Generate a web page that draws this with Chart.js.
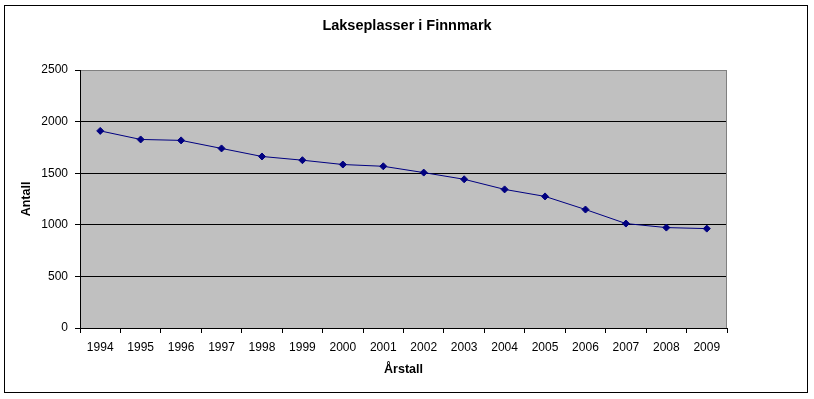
<!DOCTYPE html>
<html>
<head>
<meta charset="utf-8">
<script src="https://cdn.jsdelivr.net/npm/chart.js@4/dist/chart.umd.min.js"></script>
<style>
  body { margin: 0; background: #fff; }
  canvas { display: block; }
</style>
</head>
<body>
<canvas id="grafico" width="814" height="399"></canvas>
<script>
// Data
const aar = ['1994', '1995', '1996', '1997', '1998', '1999', '2000', '2001',
             '2002', '2003', '2004', '2005', '2006', '2007', '2008', '2009'];
const lakseplasser = [1910, 1827, 1818, 1740, 1662, 1626, 1584, 1567,
                      1506, 1441, 1343, 1275, 1148, 1012, 973, 963];
const yMin = 0;
const yMax = 2500;
const yStep = 500;

const fonte = "'Liberation Sans', Arial, sans-serif";

// bakgrunn, ramme og grått plottområde
const rammePlugin = {
    id: 'ramme',
    beforeDraw(chart) {
        const ctx = chart.ctx;
        const a = chart.chartArea;
        ctx.save();
        ctx.fillStyle = '#fff';
        ctx.fillRect(0, 0, chart.width, chart.height);
        ctx.strokeStyle = '#000';
        ctx.lineWidth = 1;
        ctx.strokeRect(4.5, 5.5, 803, 387);
        ctx.fillStyle = '#c0c0c0';
        ctx.fillRect(a.left, a.top, a.right - a.left, a.bottom - a.top);
        ctx.restore();
    },
    beforeDatasetsDraw(chart) {
        const ctx = chart.ctx;
        const a = chart.chartArea;
        ctx.save();
        ctx.strokeStyle = '#808080';
        ctx.lineWidth = 1;
        ctx.beginPath();
        ctx.moveTo(Math.round(a.right) - 0.5, a.top);
        ctx.lineTo(Math.round(a.right) - 0.5, a.bottom);
        ctx.stroke();
        ctx.restore();
    }
};

new Chart(document.getElementById('grafico'), {
    type: 'line',
    data: {
        labels: aar,
        datasets: [{
            label: 'Lakseplasser',
            data: lakseplasser,
            borderColor: '#000080',
            borderWidth: 1,
            backgroundColor: '#000080',
            fill: false,
            tension: 0,
            pointStyle: 'rectRot',
            pointRadius: 3.5,
            pointBorderWidth: 1,
            pointBackgroundColor: '#000080',
            pointBorderColor: '#000080'
        }]
    },
    options: {
        responsive: false,
        animation: false,
        layout: { padding: 0 },
        plugins: {
            legend: { display: false },
            tooltip: { enabled: false },
            title: {
                display: true,
                text: 'Lakseplasser i Finnmark',
                color: '#000',
                font: { family: fonte, size: 14.5, weight: 'bold', lineHeight: 1.2 },
                padding: { top: 17, bottom: 35.6 }
            }
        },
        scales: {
            x: {
                type: 'category',
                offset: true,
                afterFit(scale) { scale.height = 71; },
                grid: {
                    offset: true,
                    drawOnChartArea: false,
                    color: '#000',
                    tickColor: '#000',
                    tickLength: 5
                },
                border: { color: '#000', width: 1 },
                ticks: {
                    color: '#000',
                    padding: 7,
                    maxRotation: 0,
                    autoSkip: false,
                    font: { family: fonte, size: 12 }
                },
                title: {
                    display: true,
                    text: 'Årstall',
                    color: '#000',
                    font: { family: fonte, size: 12.5, weight: 'bold', lineHeight: 1.2 },
                    padding: { top: 0, bottom: 21.5 }
                }
            },
            y: {
                min: yMin,
                max: yMax,
                afterFit(scale) { scale.width = 80; },
                grid: {
                    color: (c) => (c.tick && c.tick.value === yMax ? '#808080' : '#000'),
                    tickColor: '#000',
                    tickLength: 5
                },
                border: { color: '#000', width: 1 },
                ticks: {
                    stepSize: yStep,
                    color: '#000',
                    padding: 7,
                    font: { family: fonte, size: 12 },
                    callback: (v) => String(v)
                },
                title: {
                    display: true,
                    text: 'Antall',
                    color: '#000',
                    font: { family: fonte, size: 12.5, weight: 'bold', lineHeight: 1.2 },
                    padding: { top: 19, bottom: 0 }
                }
            },
            // tom akse til høyre, holder plass slik at tittelen blir midtstilt over hele figuren
            hoyre: {
                type: 'linear',
                position: 'right',
                afterFit(scale) { scale.width = 87; },
                grid: { display: false },
                border: { display: false },
                ticks: { display: false }
            }
        }
    },
    plugins: [rammePlugin]
});
</script>
</body>
</html>
